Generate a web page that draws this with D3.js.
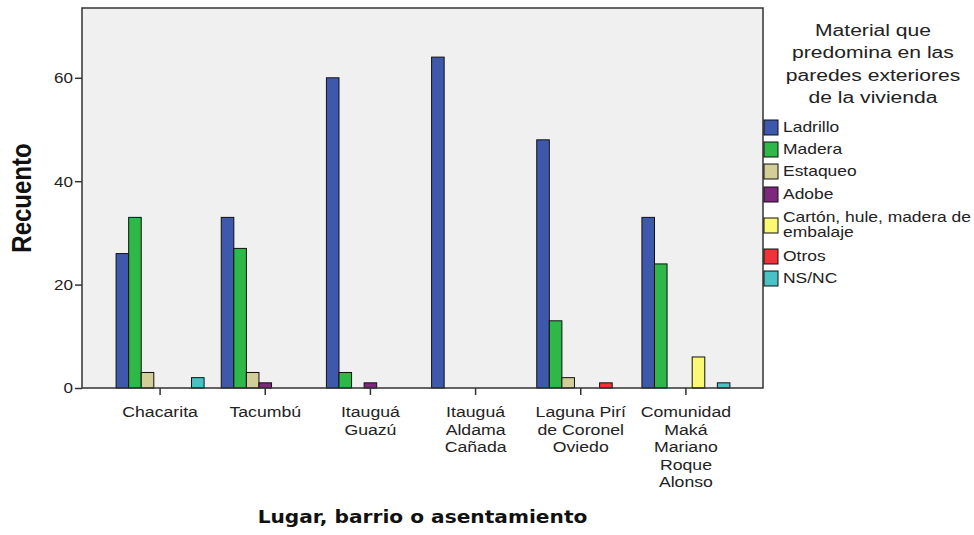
<!DOCTYPE html>
<html>
<head>
<meta charset="utf-8">
<script src="https://cdn.jsdelivr.net/npm/d3@7"></script>
<style>
  body { margin: 0; background: #fff; }
  text { font-family: "Liberation Sans", Arial, sans-serif; }
</style>
</head>
<body>
<svg id="chart" width="974" height="535"></svg>
<script>
// categories (x axis)
var lugares = [
  ["Chacarita"],
  ["Tacumbú"],
  ["Itauguá", "Guazú"],
  ["Itauguá", "Aldama", "Cañada"],
  ["Laguna Pirí", "de Coronel", "Oviedo"],
  ["Comunidad", "Maká", "Mariano", "Roque", "Alonso"]
];
// series
var materiales = ["Ladrillo", "Madera", "Estaqueo", "Adobe", "Cartón, hule, madera de embalaje", "Otros", "NS/NC"];
var colores = ["#3e58ac", "#2eb848", "#d3ce97", "#7c287d", "#fbf873", "#ef3338", "#48c2c5"];
// counts per lugar, in the order of materiales
var ladrillo = [26, 33, 60, 64, 48, 33];
var madera   = [33, 27, 3, 0, 13, 24];
var estaqueo = [3, 3, 0, 0, 2, 0];
var adobe    = [0, 1, 1, 0, 0, 0];
var carton   = [0, 0, 0, 0, 0, 6];
var otros    = [0, 0, 0, 0, 1, 0];
var nsnc     = [2, 0, 0, 0, 0, 1];
var yTicks = [0, 20, 40, 60];

var series = [ladrillo, madera, estaqueo, adobe, carton, otros, nsnc];

var svg = d3.select("#chart");
var pLeft = 82, pRight = 763, pTop = 8, pBottom = 388;
var sx = 1.22; // the original export is stretched sideways

var x = d3.scaleBand()
  .domain(d3.range(lugares.length))
  .range([107.5, 738.5]);

var xs = d3.scaleBand()
  .domain(d3.range(materiales.length))
  .range([0, 88]);

var y = d3.scaleLinear()
  .domain([0, 73.5])
  .range([pBottom, pTop]);

// plot background
svg.append("rect")
  .attr("x", pLeft).attr("y", pTop)
  .attr("width", pRight - pLeft).attr("height", pBottom - pTop)
  .attr("fill", "#f0f0f0");

// bars
var rows = [];
lugares.forEach(function(l, i) {
  series.forEach(function(s, j) {
    if (s[i] > 0) rows.push({ i: i, j: j, v: s[i] });
  });
});

svg.append("g")
  .selectAll("rect")
  .data(rows)
  .enter().append("rect")
  .attr("x", function(d) { return x(d.i) + x.bandwidth() / 2 - 44 + xs(d.j); })
  .attr("y", function(d) { return y(d.v); })
  .attr("width", xs.bandwidth())
  .attr("height", function(d) { return pBottom - y(d.v); })
  .attr("fill", function(d) { return colores[d.j]; })
  .attr("stroke", "#111")
  .attr("stroke-width", 1);

// frame
svg.append("rect")
  .attr("x", pLeft).attr("y", pTop)
  .attr("width", pRight - pLeft).attr("height", pBottom - pTop)
  .attr("fill", "none")
  .attr("stroke", "#333")
  .attr("stroke-width", 1.5);

// y axis
var yAxis = svg.append("g")
  .attr("transform", "translate(" + pLeft + ",0)")
  .call(d3.axisLeft(y).tickValues(yTicks).tickSize(7).tickFormat(""));
yAxis.select(".domain").remove();
yAxis.selectAll("line").attr("stroke", "#333").attr("stroke-width", 1.5);
yAxis.selectAll(".tick").append("text")
  .attr("transform", "translate(-9,0) scale(" + sx + ",1)")
  .attr("text-anchor", "end")
  .attr("dy", "0.35em")
  .attr("font-size", 14)
  .attr("fill", "#222")
  .attr("font-family", "Liberation Sans, Arial, sans-serif")
  .text(function(d) { return d; });

// x axis
var xAxis = svg.append("g")
  .attr("transform", "translate(0," + pBottom + ")")
  .call(d3.axisBottom(x).tickSize(7).tickFormat(""));
xAxis.select(".domain").remove();
xAxis.selectAll("line").attr("stroke", "#333").attr("stroke-width", 1.5);

xAxis.selectAll(".tick").each(function(d) {
  var t = d3.select(this).append("text")
    .attr("transform", "scale(" + sx + ",1)")
    .attr("text-anchor", "middle")
    .attr("font-size", 14.5)
    .attr("fill", "#222")
    .attr("font-family", "Liberation Sans, Arial, sans-serif");
  lugares[d].forEach(function(line, k) {
    t.append("tspan").attr("x", 0).attr("y", 29 + k * 17.6).text(line);
  });
});

// axis titles
svg.append("text")
  .attr("transform", "translate(31,198) scale(1.14,1) rotate(-90)")
  .attr("text-anchor", "middle")
  .attr("font-size", 24)
  .attr("font-weight", "bold")
  .attr("fill", "#111")
  .text("Recuento");

svg.append("text")
  .attr("transform", "translate(" + (pLeft + pRight) / 2 + ",523) scale(1.12,1)")
  .attr("text-anchor", "middle")
  .attr("font-size", 18)
  .attr("font-weight", "bold")
  .attr("fill", "#111")
  .style("font-family", "DejaVu Sans")
  .text("Lugar, barrio o asentamiento");

// legend
var legTitle = ["Material que", "predomina en las", "paredes exteriores", "de la vivienda"];
svg.append("text")
  .attr("transform", "translate(873,0) scale(" + sx + ",1)")
  .attr("text-anchor", "middle")
  .attr("font-size", 17.3)
  .attr("fill", "#222")
  .selectAll("tspan")
  .data(legTitle)
  .enter().append("tspan")
  .attr("x", 0)
  .attr("y", function(d, i) { return 36 + i * 22.3; })
  .text(function(d) { return d; });

var legY = [127, 149, 171, 194, 225, 256, 278];
var legend = svg.append("g")
  .selectAll("g")
  .data(materiales)
  .enter().append("g")
  .attr("transform", function(d, i) { return "translate(764," + legY[i] + ")"; });

legend.append("rect")
  .attr("x", 0).attr("y", -7)
  .attr("width", 14).attr("height", 15)
  .attr("fill", function(d, i) { return colores[i]; })
  .attr("stroke", "#111");

legend.append("text")
  .attr("transform", "translate(19,0) scale(" + sx + ",1)")
  .attr("font-size", 14.3)
  .attr("fill", "#222")
  .each(function(d, i) {
    var t = d3.select(this);
    if (i === 4) {
      t.append("tspan").attr("x", 0).attr("y", -3).text("Cartón, hule, madera de");
      t.append("tspan").attr("x", 0).attr("y", 12).text("embalaje");
    } else {
      t.append("tspan").attr("x", 0).attr("y", 5).text(d);
    }
  });
</script>
</body>
</html>
